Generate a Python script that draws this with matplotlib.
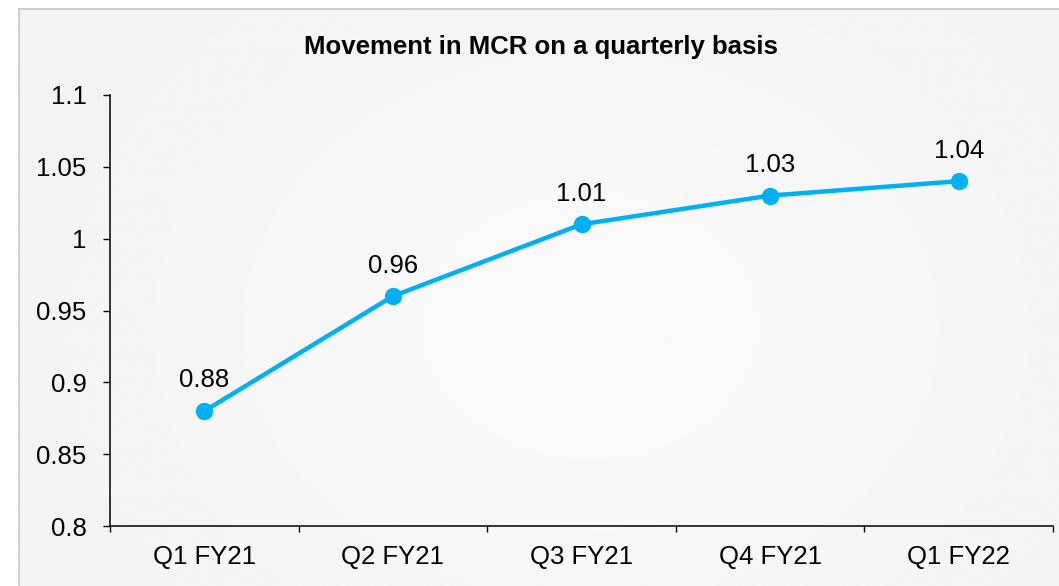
import numpy as np
import matplotlib
matplotlib.use("Agg")
import matplotlib.pyplot as plt

quarters = ["Q1 FY21", "Q2 FY21", "Q3 FY21", "Q4 FY21", "Q1 FY22"]
mcr = [0.88, 0.96, 1.01, 1.03, 1.04]
yticks = [0.8, 0.85, 0.9, 0.95, 1.0, 1.05, 1.1]
ytick_labels = ["0.8", "0.85", "0.9", "0.95", "1", "1.05", "1.1"]

plt.rcParams['font.family'] = ['Liberation Sans', 'DejaVu Sans']

W, H = 1059, 586
fig = plt.figure(figsize=(W / 100, H / 100), dpi=100)
fig.patch.set_facecolor("white")

# grey panel with soft radial gradient
bg = fig.add_axes([19 / W, 0, 1 - 19 / W, 1 - 9 / H])
yy, xx = np.mgrid[0:1:200j, 0:1:300j]
r = np.sqrt((xx - 0.55) ** 2 + ((yy - 0.55) * 0.7) ** 2)
g = 0.98 - 0.045 * np.clip(r, 0, 1)
bg.imshow(g, cmap="gray", vmin=0, vmax=1, aspect="auto", extent=[0, 1, 0, 1])
bg.set_xlim(0, 1)
bg.set_ylim(0, 1)
bg.set_xticks([])
bg.set_yticks([])
for s in ["right", "bottom"]:
    bg.spines[s].set_visible(False)
for s in ["left", "top"]:
    bg.spines[s].set_color("#c8c8c8")
    bg.spines[s].set_linewidth(1.2)

ax = fig.add_axes([110 / W, 1 - 526 / H, (1053 - 110) / W, (526 - 95) / H])
ax.patch.set_alpha(0)
x = np.arange(len(quarters))
ax.plot(x, mcr, color="#00B0F0", lw=3.2, marker="o", ms=11.5, solid_capstyle="round")
for xi, v in zip(x, mcr):
    ax.annotate(f"{v:.2f}", (xi, v), xytext=(0, 17), textcoords="offset points",
                ha="center", va="baseline", fontsize=18.5)

ax.set_xlim(-0.5, len(quarters) - 0.5)
ax.set_ylim(0.8, 1.1)
ax.set_yticks(yticks)
ax.set_yticklabels(ytick_labels)
ax.set_xticks(x)
ax.set_xticklabels(quarters)
ax.set_xticks(np.arange(-0.5, len(quarters)), minor=True)
ax.tick_params(axis="x", which="major", length=0, pad=14, labelsize=18.5)
ax.tick_params(axis="x", which="minor", length=4.5, width=1)
ax.tick_params(axis="y", length=5, width=1, pad=12, labelsize=18.5)
for s in ["top", "right"]:
    ax.spines[s].set_visible(False)
for s in ["left", "bottom"]:
    ax.spines[s].set_linewidth(1.1)

fig.text(541 / W, 1 - 47 / H, "Movement in MCR on a quarterly basis",
         ha="center", va="center", fontsize=18.5, fontweight="bold")

plt.savefig("out.png", dpi=100)
